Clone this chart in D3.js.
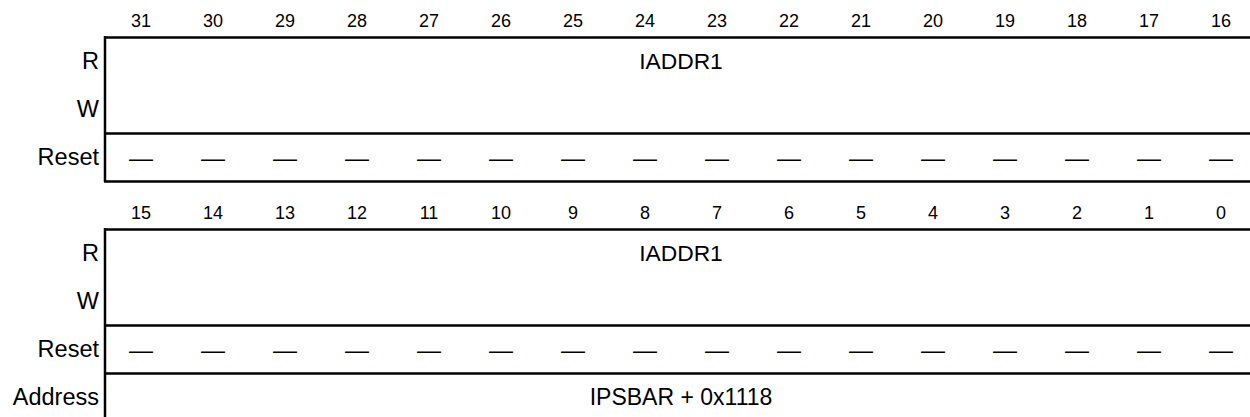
<!DOCTYPE html>
<html><head><meta charset="utf-8">
<script src="https://cdn.jsdelivr.net/npm/d3@7"></script>
<style>html,body{margin:0;padding:0;background:#fff;}svg{display:block;font-family:"Liberation Sans",Arial,sans-serif;}</style>
</head><body>
<script>
const bitsHigh = d3.range(31, 15, -1);
const bitsLow = d3.range(15, -1, -1);
const fieldName = "IADDR1";
const resetHigh = bitsHigh.map(() => "—");
const resetLow = bitsLow.map(() => "—");
const rowLabels = ["R", "W", "Reset"];
const addressLabel = "Address";
const addressValue = "IPSBAR + 0x1118";

const W = 1250, H = 417;
const svg = d3.select("body").append("svg").attr("width", W).attr("height", H);

const colIdx = d3.range(16);
const x = d3.scaleBand().domain(colIdx).range([105, 1257]);
const y = d3.scaleLinear().domain([0, 9]).range([-11, 421]);
const left = x.range()[0], right = x.range()[1];
const cx = (left + right) / 2;
const SW = 2.5;

function block(bits, reset, r0, isLast) {
  const g = svg.append("g");
  g.selectAll("text.bit").data(bits).join("text")
    .attr("x", (d, i) => x(i) + x.bandwidth() / 2)
    .attr("y", y(r0) + 32)
    .attr("text-anchor", "middle").attr("dominant-baseline", "central")
    .attr("font-size", 18).text(d => d);
  const labs = isLast ? rowLabels.concat([addressLabel]) : rowLabels;
  g.selectAll("text.lab").data(labs).join("text")
    .attr("x", 99).attr("y", (d, i) => y(r0 + 1 + i + 0.5))
    .attr("text-anchor", "end").attr("dominant-baseline", "central")
    .attr("font-size", 23.5).text(d => d);
  g.append("text").attr("x", cx).attr("y", y(r0 + 1.5))
    .attr("text-anchor", "middle").attr("dominant-baseline", "central")
    .attr("font-size", 22.8).text(fieldName);
  g.selectAll("text.rst").data(reset).join("text")
    .attr("x", (d, i) => x(i) + x.bandwidth() / 2)
    .attr("y", y(r0 + 3.5))
    .attr("text-anchor", "middle").attr("dominant-baseline", "central")
    .attr("font-size", 24).text(d => d);
  const hl = [r0 + 1, r0 + 3, r0 + 4];
  g.selectAll("line.h").data(hl).join("line")
    .attr("x1", left - 1).attr("x2", right).attr("y1", d => y(d) + 0.5).attr("y2", d => y(d) + 0.5)
    .attr("stroke", "#000").attr("stroke-width", SW);
  g.append("line").attr("x1", left).attr("x2", left)
    .attr("y1", y(r0 + 1) - 1).attr("y2", y(r0 + (isLast ? 5 : 4)) + 1)
    .attr("stroke", "#000").attr("stroke-width", SW);
  g.append("line").attr("x1", right).attr("x2", right)
    .attr("y1", y(r0 + 1)).attr("y2", y(r0 + 4))
    .attr("stroke", "#000").attr("stroke-width", SW);
  if (isLast) {
    g.append("text").attr("x", cx).attr("y", y(r0 + 4.5))
      .attr("text-anchor", "middle").attr("dominant-baseline", "central")
      .attr("font-size", 23).text(addressValue);
  }
}
block(bitsHigh, resetHigh, 0, false);
block(bitsLow, resetLow, 4, true);
</script>
</body></html>
